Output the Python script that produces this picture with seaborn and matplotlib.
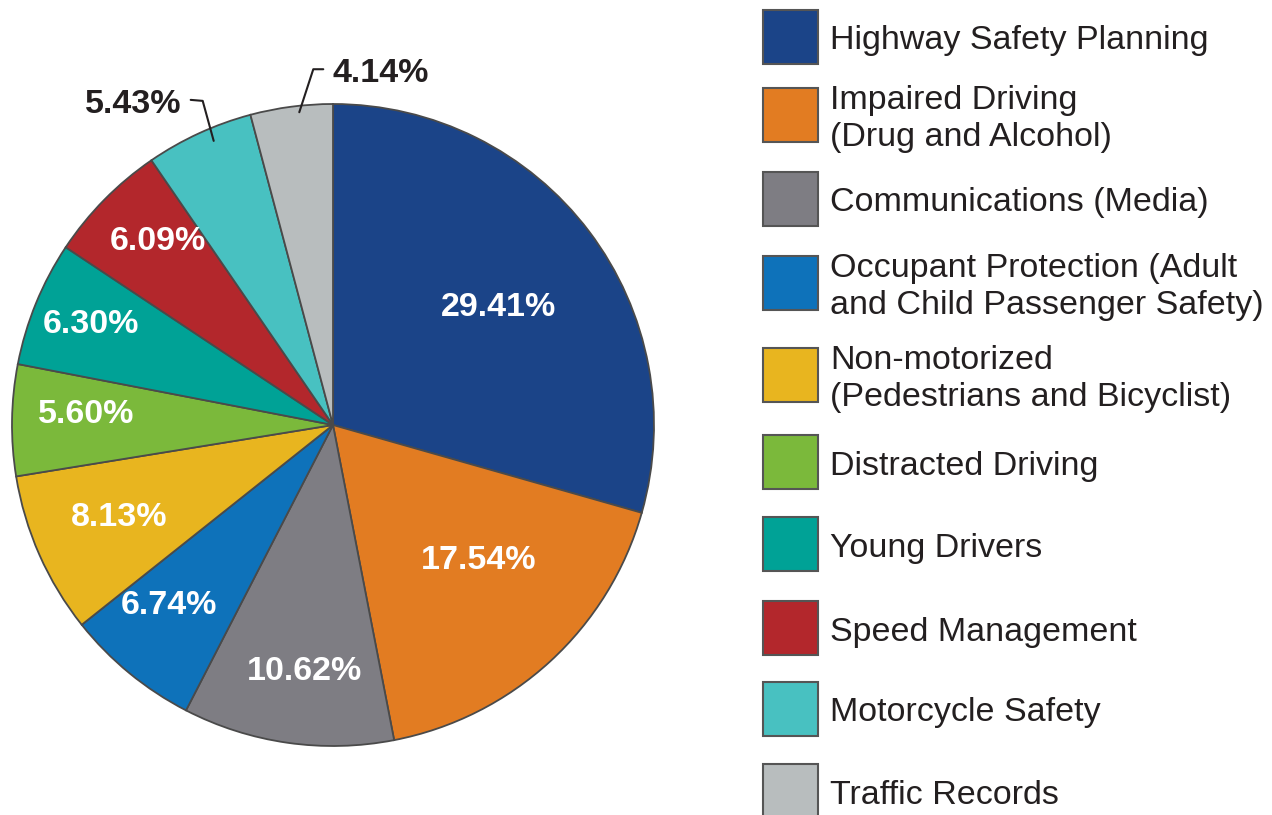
import numpy as np
import matplotlib
matplotlib.use("Agg")
import matplotlib.pyplot as plt
import seaborn as sns
from matplotlib.patches import Rectangle

# data
categories = [
    "Highway Safety Planning",
    "Impaired Driving\n(Drug and Alcohol)",
    "Communications (Media)",
    "Occupant Protection (Adult\nand Child Passenger Safety)",
    "Non-motorized\n(Pedestrians and Bicyclist)",
    "Distracted Driving",
    "Young Drivers",
    "Speed Management",
    "Motorcycle Safety",
    "Traffic Records",
]
shares = [29.41, 17.54, 10.62, 6.74, 8.13, 5.60, 6.30, 6.09, 5.43, 4.14]
colors = ["#1b4488", "#e27c22", "#7e7d83", "#0e72ba", "#e8b51f",
          "#7bb93b", "#00a296", "#b3272c", "#48c1c1", "#b8bdbe"]

sns.set_theme(style="white")
plt.rcParams["font.family"] = ["Liberation Sans", "DejaVu Sans"]

W, H = 1272, 815
fig = plt.figure(figsize=(W / 100, H / 100), dpi=100)
ax = fig.add_axes([0, 0, 1, 1])

cx, cy, R = 333, H - 425, 321
wedges, _ = ax.pie(shares, colors=colors, startangle=90, counterclock=False,
                   center=(cx, cy), radius=R,
                   wedgeprops=dict(edgecolor="#4a4a4a", linewidth=1.3))
ax.set_aspect("equal")
ax.set_xlim(0, W)
ax.set_ylim(0, H)
ax.axis("off")

# label placement: fraction of radius and clockwise shift from mid-angle (deg)
label_r = [0.64, 0.61, 0.76, 0.75, 0.72, 0.77, 0.82, 0.80, 0.96, 0.98]
label_shift = [0.9, -5.3, -1.5, 3.6, 1.3, 2.6, 1.1, 2.3, 1.9, 1.3]
dark = "#231f20"
fs = 24.5
dy = -4  # visual centring of text
for i, (w, v) in enumerate(zip(wedges, shares)):
    ang = np.deg2rad((w.theta1 + w.theta2) / 2 - label_shift[i])
    px = cx + label_r[i] * R * np.cos(ang)
    py = cy + label_r[i] * R * np.sin(ang)
    txt = f"{v:.2f}%"
    if i < 8:
        ax.text(px, py + dy, txt, color="white", fontsize=fs, fontweight="bold",
                ha="center", va="center")
    elif i == 8:
        ex, ey = px - 11, py + 40
        ax.plot([px, ex, ex - 12], [py, ey, ey + 1], color=dark, lw=1.5)
        ax.text(ex - 21, ey + dy, txt, color=dark, fontsize=fs, fontweight="bold",
                ha="right", va="center")
    else:
        ex, ey = px + 14, py + 43
        ax.plot([px, ex, ex + 10], [py, ey, ey], color=dark, lw=1.5)
        ax.text(ex + 19, ey + dy, txt, color=dark, fontsize=fs, fontweight="bold",
                ha="left", va="center")

# legend drawn by hand to match uneven row spacing
row_y = [37, 115, 199, 283, 375, 462, 544, 628, 709, 791]
for name, col, y in zip(categories, colors, row_y):
    yy = H - y
    ax.add_patch(Rectangle((763, yy - 27), 55, 54, facecolor=col,
                           edgecolor="#555555", linewidth=1.5, clip_on=False))
    ax.text(830, yy + dy, name, fontsize=fs, color=dark, ha="left", va="center",
            linespacing=1.27)

fig.savefig("out.png", dpi=100)
